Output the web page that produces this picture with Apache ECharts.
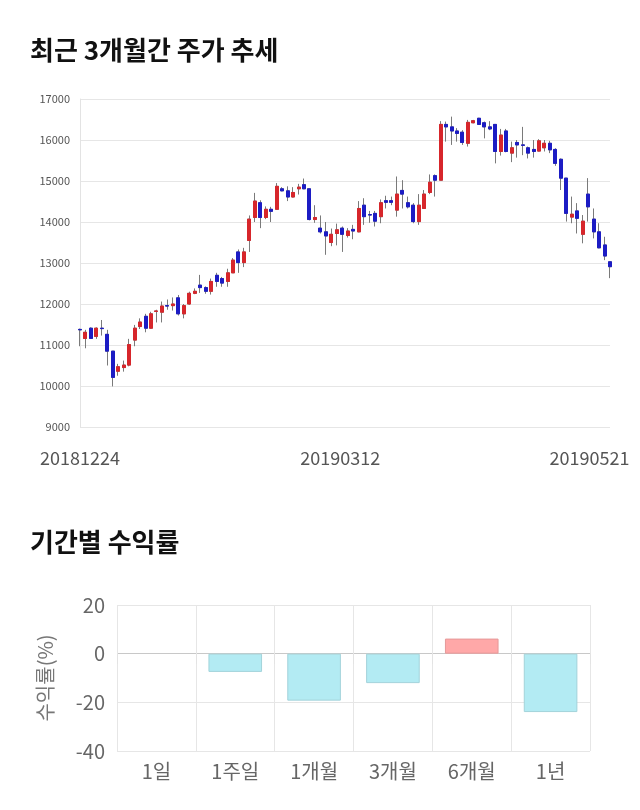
<!DOCTYPE html>
<html><head><meta charset="utf-8">
<script src="https://cdn.jsdelivr.net/npm/echarts@6/dist/echarts.min.js"></script>
<style>html,body{margin:0;padding:0;background:#fff}#c{width:640px;height:810px}</style>
</head><body><div id="c"></div>
<script>
const dates = [
'20181224','20181226','20181227','20181228',
'20190102','20190103','20190104','20190107','20190108','20190109','20190110','20190111','20190114','20190115','20190116','20190117','20190118','20190121','20190122','20190123','20190124','20190125','20190128','20190129','20190130','20190131',
'20190201','20190207','20190208','20190211','20190212','20190213','20190214','20190215','20190218','20190219','20190220','20190221','20190222','20190225','20190226','20190227','20190228',
'20190304','20190305','20190306','20190307','20190308','20190311','20190312','20190313','20190314','20190315','20190318','20190319','20190320','20190321','20190322','20190325','20190326','20190327','20190328','20190329',
'20190401','20190402','20190403','20190404','20190405','20190408','20190409','20190410','20190411','20190412','20190415','20190416','20190417','20190418','20190419','20190422','20190423','20190424','20190425','20190426','20190429','20190430',
'20190502','20190503','20190507','20190508','20190509','20190510','20190513','20190514','20190515','20190516','20190517','20190520','20190521'];
const opens = [11380,11160,11410,11210,11410,11260,10850,10360,10450,10510,11120,11450,11700,11410,11820,11800,11960,11960,12150,11760,12000,12260,12460,12400,12310,12700,12620,12550,12760,13270,13010,13550,14110,14470,14110,14310,14310,14810,14760,14610,14810,14910,14810,14060,13850,13760,13500,13720,13850,13670,13820,13760,14410,14180,14210,14130,14520,14520,14290,14770,14470,14410,14010,14330,14720,15130,15020,16380,16320,16220,16190,15920,16420,16530,16420,16320,16380,15720,16220,15680,15940,15880,15810,15770,15730,15810,15920,15770,15530,15070,14120,14270,13700,14680,14070,13760,13440,13030];
const closes = [11370,11310,11160,11410,11400,10850,10210,10470,10510,11010,11410,11560,11410,11760,11830,11950,11950,12000,11760,11960,12260,12310,12400,12310,12550,12550,12510,12760,13070,13010,13270,14070,14510,14110,14310,14260,14870,14760,14610,14720,14850,14810,14060,14110,13760,13660,13700,13810,13700,13780,13780,14330,14130,14170,14020,14470,14480,14480,14680,14680,14370,14010,14410,14680,14970,15020,16380,16320,16220,16160,15940,16430,16470,16380,16320,16270,15720,16120,15720,15810,15880,15870,15680,15720,15980,15920,15760,15430,15070,14210,14190,14090,14020,14370,13760,13370,13170,12910];
const lows = [10970,10920,11150,11150,11230,10500,9990,10250,10350,10480,10970,11390,11310,11390,11550,11550,11860,11840,11720,11650,11980,12240,12270,12250,12230,12420,12420,12420,12760,12760,12900,13270,14000,13850,14070,14000,14310,14750,14510,14600,14670,14800,14040,13980,13720,13200,13410,13430,13270,13620,13580,13750,13930,13980,13890,13970,14330,14410,14130,14330,14330,13970,13930,14320,14680,14620,15020,15960,15880,15960,15880,15840,16410,16370,16040,16240,15430,15620,15700,15460,15570,15630,15550,15570,15720,15720,15680,15370,14780,14010,13970,13720,13480,14010,13600,13360,13070,12630];
const highs = [11400,11370,11430,11430,11610,11370,10850,10540,10620,11150,11490,11650,11760,11810,11860,12060,12110,12160,12220,12000,12300,12380,12710,12430,12620,12760,12660,12860,13120,13330,13370,14160,14710,14530,14380,14370,14950,14850,14870,14850,14930,15060,14810,14410,14160,14000,13840,13960,13890,13850,13930,14510,14580,14270,14270,14550,14640,14620,15110,15020,14620,14460,14680,14780,15160,15160,16460,16450,16570,16290,16240,16490,16490,16540,16450,16460,16380,16270,16270,15960,16000,16320,15840,16000,16020,16000,15980,15800,15550,15070,14620,14460,14170,15070,14330,13970,13640,13030];
const priceMin = 9000, priceMax = 17000, priceStep = 1000;
const xTickLabels = ['20181224','20190312','20190521'];

const periods = ['1일','1주일','1개월','3개월','6개월','1년'];
const returns = [0, -7.5, -19.3, -12.1, 6.2, -24.0];

const RED = '#d7262b', BLUE = '#1c1cc4', WICK = '#7a7a7a';
const FONT = '"Noto Sans CJK KR","Noto Sans",sans-serif';

const wickData = dates.map((d, i) => [opens[i], closes[i], lows[i], highs[i]]);
const bodyData = dates.map((d, i) => [opens[i], closes[i], Math.min(opens[i], closes[i]), Math.max(opens[i], closes[i])]);

const labelRich = {
  t0: {fontSize: 18, color: '#555', fontFamily: FONT},
  t1: {fontSize: 18, color: '#555', fontFamily: FONT, padding: [0, 15, 0, 0]},
  t2: {fontSize: 18, color: '#555', fontFamily: FONT, padding: [0, 41, 0, 0]}
};

function barStyle(v) {
  if (v > 0) return {color: '#ffa8a8', borderColor: '#e59a9a', borderWidth: 1};
  if (v < 0) return {color: '#b3ebf3', borderColor: '#a3d3da', borderWidth: 1};
  return {color: 'rgba(0,0,0,0)', borderWidth: 0};
}

const chart = echarts.init(document.getElementById('c'), null, {renderer: 'canvas'});
chart.setOption({
  animation: false,
  backgroundColor: '#fff',
  title: [
    {text: '최근 3개월간 주가 추세', left: 30, top: 37, padding: 0,
     textStyle: {fontSize: 26, fontWeight: 'bold', color: '#111', fontFamily: FONT}},
    {text: '기간별 수익률', left: 30, top: 529, padding: 0,
     textStyle: {fontSize: 26, fontWeight: 'bold', color: '#111', fontFamily: FONT}}
  ],
  grid: [
    {left: 80, right: 30, top: 99, bottom: 383},
    {left: 117, right: 50, top: 605, bottom: 59}
  ],
  xAxis: [
    {type: 'category', gridIndex: 0, data: dates, boundaryGap: false,
     axisLine: {show: false}, axisTick: {show: false}, splitLine: {show: false},
     axisLabel: {
       interval: (i, v) => xTickLabels.indexOf(v) >= 0,
       margin: 22,
       formatter: v => '{t' + xTickLabels.indexOf(v) + '|' + v + '}',
       rich: labelRich
     }},
    {type: 'category', gridIndex: 1, data: periods,
     axisLine: {show: false},
     axisTick: {show: true, length: 10, lineStyle: {color: '#e3e3e3'}},
     splitLine: {show: true, lineStyle: {color: '#e6e6e6'}},
     axisLabel: {fontSize: 20, color: '#666', margin: 10, fontFamily: FONT}}
  ],
  yAxis: [
    {type: 'value', gridIndex: 0, min: priceMin, max: priceMax, interval: priceStep,
     axisLine: {show: true, lineStyle: {color: '#e3e3e3'}}, axisTick: {show: false},
     splitLine: {lineStyle: {color: '#e6e6e6'}},
     axisLabel: {fontSize: 11, color: '#555', margin: 10, fontFamily: FONT, formatter: v => String(v)}},
    {type: 'value', gridIndex: 1, min: -40, max: 20, interval: 20,
     axisLine: {show: false}, axisTick: {show: false},
     splitLine: {lineStyle: {color: ['#e6e6e6', '#e6e6e6', '#c8c8c8', '#e6e6e6']}},
     axisLabel: {fontSize: 20, color: '#666', margin: 12, fontFamily: FONT},
     name: '수익률(%)', nameLocation: 'middle', nameRotate: 90, nameGap: 62,
     nameTextStyle: {fontSize: 20, color: '#777', fontFamily: FONT}}
  ],
  series: [
    {type: 'candlestick', xAxisIndex: 0, yAxisIndex: 0, data: wickData, barWidth: 3.5,
     itemStyle: {color: WICK, color0: WICK, borderColor: WICK, borderColor0: WICK, borderWidth: 1}},
    {type: 'candlestick', xAxisIndex: 0, yAxisIndex: 0, data: bodyData, barWidth: 3.5,
     itemStyle: {color: RED, color0: BLUE, borderColor: RED, borderColor0: BLUE, borderWidth: 1}},
    {type: 'bar', xAxisIndex: 1, yAxisIndex: 1, barWidth: '68%',
     data: returns.map(v => ({value: v, itemStyle: barStyle(v)}))}
  ]
});
</script></body></html>
